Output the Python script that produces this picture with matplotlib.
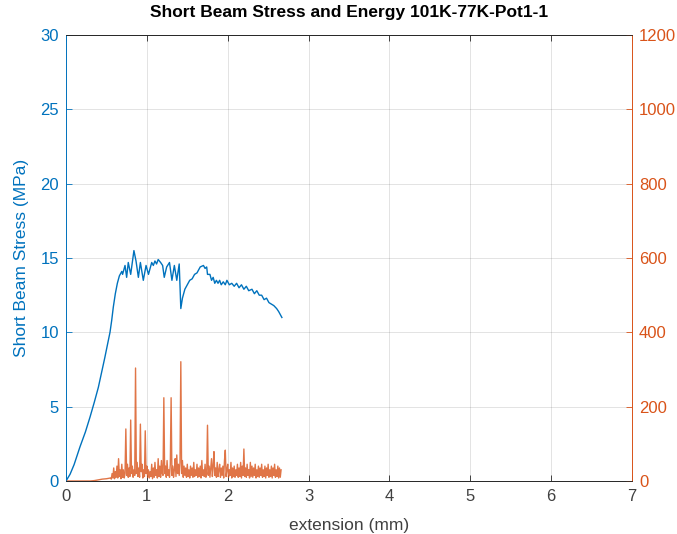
import numpy as np
import matplotlib
matplotlib.use("Agg")
from matplotlib import pyplot as plt

plt.rcParams['font.family'] = ['Liberation Sans', 'DejaVu Sans']

BLUE = '#0072BD'
ORANGE = '#D95319'
GREY = '#262626'

# stress curve (mm, MPa)
stress_x = [0.0, 0.05, 0.1, 0.173, 0.24, 0.297, 0.35, 0.40, 0.44, 0.48, 0.51,
            0.544, 0.565, 0.585, 0.61, 0.635, 0.66, 0.69, 0.70, 0.73, 0.75,
            0.77, 0.80, 0.84, 0.866, 0.895,
            0.92, 0.956, 0.99, 1.02, 1.06, 1.08, 1.10, 1.12, 1.14, 1.17, 1.195,
            1.215, 1.245, 1.28, 1.31, 1.34, 1.37, 1.40, 1.42, 1.44, 1.47, 1.50,
            1.53, 1.56, 1.59, 1.62, 1.66, 1.70, 1.72, 1.74, 1.75, 1.78, 1.80,
            1.82, 1.84, 1.86, 1.88, 1.90, 1.92, 1.945, 1.97, 1.99, 2.02, 2.05,
            2.08, 2.11, 2.14, 2.17, 2.20, 2.23, 2.26, 2.30, 2.33, 2.36, 2.39,
            2.42, 2.45, 2.48, 2.51, 2.54, 2.57, 2.605, 2.63, 2.65, 2.67]
stress_y = [0.0, 0.45, 1.1, 2.3, 3.3, 4.3, 5.3, 6.3, 7.3, 8.3, 9.1,
            10.0, 10.8, 11.7, 12.6, 13.3, 13.8, 14.1, 13.9, 14.5, 13.7,
            14.7, 13.9, 15.5, 14.8, 13.7,
            14.7, 13.5, 14.5, 13.9, 14.7, 14.5, 14.8, 14.6, 14.9, 14.7, 14.5,
            13.7, 14.4, 14.7, 13.5, 14.5, 13.5, 14.6, 11.6, 12.3, 12.9, 13.2,
            13.5, 13.6, 13.9, 14.0, 14.4, 14.5, 14.3, 14.4, 13.9, 13.9, 13.5,
            13.7, 13.3, 13.5, 13.3, 13.5, 13.2, 13.4, 13.2, 13.5, 13.2, 13.3,
            13.1, 13.3, 13.0, 13.2, 12.9, 13.1, 12.8, 12.9, 12.6, 12.8, 12.5,
            12.5, 12.2, 12.3, 12.0, 11.9, 11.8, 11.6, 11.4, 11.2, 11.0]

# energy trace (right axis)
energy_lead_x = [0.0, 0.3, 0.35, 0.4, 0.45, 0.5, 0.55]
energy_lead_y = [0, 0, 1, 3, 5, 6, 8]
energy_vals = [
    5, 20, 8, 35,
    6, 25, 10, 40, 8, 60, 12, 30, 6, 45,
    10, 30, 8, 20, 140, 15, 45, 10, 35, 12,
    164, 20, 40, 10, 30, 15, 304, 20, 50, 12,
    35, 10, 153, 25, 45, 8, 30, 12, 135, 20,
    40, 10, 30, 8, 25, 12, 45, 6, 35, 10,
    50, 15, 30, 8, 60, 12, 40, 10, 55, 20,
    15, 224, 20, 40, 10, 55, 15, 30, 10, 45,
    224, 15, 40, 10, 30, 60, 12, 70, 20, 45,
    15, 50, 321, 20, 55, 10, 40, 15, 35, 10,
    45, 12, 30, 8, 40, 15, 35, 10, 50, 12,
    30, 15, 45, 10, 35, 12, 40, 8, 55, 15,
    30, 12, 45, 10, 20, 150, 15, 40, 10, 35,
    60, 12, 40, 79, 15, 35, 10, 50, 12, 30,
    45, 10, 35, 15, 40, 8, 55, 83, 12, 30,
    45, 10, 30, 15, 50, 8, 35, 12, 40, 10,
    30, 15, 45, 10, 35, 12, 50, 8, 40, 15,
    86, 12, 35, 10, 45, 15, 30, 8, 50, 12,
    40, 10, 35, 15, 45, 8, 30, 12, 40, 10,
    35, 15, 45, 10, 30, 12, 40, 8, 35, 15,
    45, 10, 30, 12, 40, 8, 35, 15, 45, 10,
    30, 12, 40, 8, 35, 10, 30,
]
energy_body_x = np.round(0.56 + 0.01 * np.arange(len(energy_vals)), 3)
energy_x = np.concatenate([energy_lead_x, energy_body_x])
energy_y = np.concatenate([energy_lead_y, energy_vals])

x_ticks = [0, 1, 2, 3, 4, 5, 6, 7]
stress_ticks = [0, 5, 10, 15, 20, 25, 30]
energy_ticks = [0, 200, 400, 600, 800, 1000, 1200]

fig = plt.figure(figsize=(6.77, 5.34), dpi=100)
ax = fig.add_axes([0.0975, 0.0993, 0.836, 0.835])
ax2 = ax.twinx()

ax.plot(stress_x, stress_y, color=BLUE, lw=1.0)
ax2.plot(energy_x, energy_y, color=ORANGE, lw=1.0, alpha=0.8)

ax.set_xlim(0, 7)
ax.set_ylim(0, 30)
ax2.set_ylim(0, 1200)
ax.set_xticks(x_ticks)
ax.set_yticks(stress_ticks)
ax2.set_yticks(energy_ticks)

ax.grid(True, color=GREY, alpha=0.15, lw=0.6)
ax.set_axisbelow(True)

fs = 12
ax.tick_params(axis='x', direction='in', top=True, colors=GREY, labelsize=fs,
               length=4, width=0.6, labelcolor='#404040', pad=6)
ax.tick_params(axis='y', direction='in', colors=BLUE, labelsize=fs,
               length=4, width=0.6, pad=5)
ax2.tick_params(axis='y', direction='in', colors=ORANGE, labelsize=fs,
                length=4, width=0.6, pad=5)

for a in (ax, ax2):
    a.spines['top'].set_color(GREY)
    a.spines['bottom'].set_color(GREY)
    a.spines['left'].set_color(BLUE)
    a.spines['right'].set_color(ORANGE)
    for s in a.spines.values():
        s.set_linewidth(0.6)

ax.set_xlabel('extension (mm)', fontsize=12.5, color='#404040', labelpad=10)
ax.set_ylabel('Short Beam Stress (MPa)', fontsize=12.5, color=BLUE, labelpad=8)
ax.set_title('Short Beam Stress and Energy 101K-77K-Pot1-1', fontsize=12.5,
             fontweight='bold', color='black', pad=13)

fig.savefig('out.png', dpi=100)
